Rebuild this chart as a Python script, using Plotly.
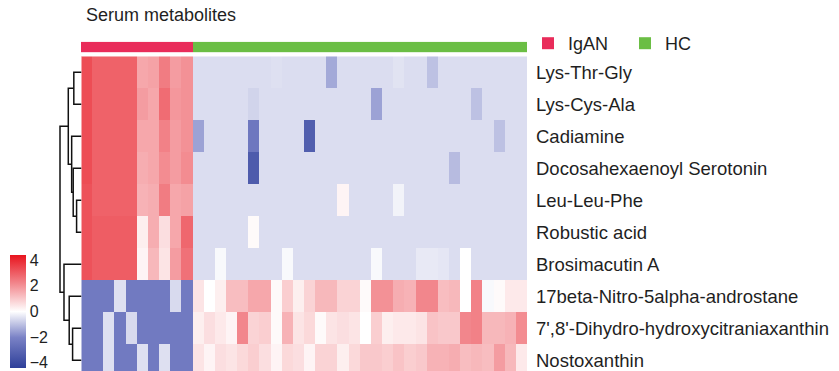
import plotly.graph_objects as go

# ---- data -------------------------------------------------------------
metabolites = [
    "Lys-Thr-Gly",
    "Lys-Cys-Ala",
    "Cadiamine",
    "Docosahexaenoyl Serotonin",
    "Leu-Leu-Phe",
    "Robustic acid",
    "Brosimacutin A",
    "17beta-Nitro-5alpha-androstane",
    "7',8'-Dihydro-hydroxycitraniaxanthin",
    "Nostoxanthin",
]
groups = ["IgAN"] * 10 + ["HC"] * 30
samples = [f"IgAN{i + 1}" for i in range(10)] + [f"HC{i + 1}" for i in range(30)]

# row-scaled abundance (z-score), IgAN samples first, then HC samples
z_lys_thr_gly = [3.3, 2.9, 2.9, 2.9, 2.9, 1.6, 1.7, 2.4, 1.8, 2.0,
                 -0.55, -0.55, -0.55, -0.55, -0.55, -0.55, -0.55, -0.5, -0.55, -0.55,
                 -0.55, -0.55, -1.4, -0.55, -0.55, -0.55, -0.55, -0.55, -0.45, -0.55,
                 -0.55, -1.0, -0.55, -0.55, -0.55, -0.55, -0.55, -0.55, -0.55, -0.55]
z_lys_cys_ala = [3.3, 2.9, 2.9, 2.9, 2.9, 1.8, 1.6, 2.7, 1.9, 2.0,
                 -0.55, -0.55, -0.55, -0.55, -0.55, -0.7, -0.55, -0.55, -0.55, -0.55,
                 -0.55, -0.55, -0.55, -0.55, -0.55, -0.55, -1.5, -0.55, -0.55, -0.55,
                 -0.55, -0.55, -0.55, -0.55, -0.55, -1.0, -0.55, -0.55, -0.55, -0.55]
z_cadiamine = [3.3, 2.9, 2.9, 2.9, 2.9, 1.6, 1.6, 2.3, 1.8, 2.0,
               -1.5, -0.55, -0.55, -0.55, -0.55, -2.4, -0.55, -0.55, -0.55, -0.55,
               -3.3, -0.55, -0.55, -0.55, -0.55, -0.55, -0.55, -0.55, -0.55, -0.55,
               -0.55, -0.55, -0.55, -0.55, -0.55, -0.55, -0.55, -1.0, -0.55, -0.55]
z_docosahexaenoyl = [3.3, 2.9, 2.9, 2.9, 2.9, 1.5, 1.6, 2.1, 1.8, 2.1,
                     -0.55, -0.55, -0.55, -0.55, -0.55, -3.4, -0.55, -0.55, -0.55, -0.55,
                     -0.55, -0.55, -0.55, -0.55, -0.55, -0.55, -0.55, -0.55, -0.55, -0.55,
                     -0.55, -0.55, -0.55, -1.1, -0.55, -0.55, -0.55, -0.55, -0.55, -0.55]
z_leu_leu_phe = [3.2, 2.9, 2.9, 2.9, 2.9, 1.4, 1.5, 2.4, 1.6, 1.7,
                 -0.55, -0.55, -0.55, -0.55, -0.55, -0.55, -0.55, -0.55, -0.55, -0.55,
                 -0.55, -0.55, -0.55, 0.2, -0.55, -0.55, -0.55, -0.55, -0.2, -0.55,
                 -0.55, -0.55, -0.55, -0.55, -0.55, -0.55, -0.55, -0.55, -0.55, -0.55]
z_robustic_acid = [3.2, 3.0, 3.0, 3.0, 3.0, 0.3, 1.5, 0.6, 1.6, 2.8,
                   -0.55, -0.55, -0.55, -0.55, -0.55, 0.1, -0.55, -0.55, -0.55, -0.55,
                   -0.55, -0.55, -0.55, -0.55, -0.55, -0.55, -0.55, -0.55, -0.55, -0.55,
                   -0.55, -0.55, -0.55, -0.55, -0.55, -0.55, -0.55, -0.55, -0.55, -0.55]
z_brosimacutin = [3.2, 3.0, 3.0, 3.0, 3.0, 0.2, 1.3, 0.5, 1.8, 2.6,
                  -0.55, -0.55, -0.1, -0.55, -0.55, -0.55, -0.55, -0.55, -0.1, -0.55,
                  -0.55, -0.55, -0.55, -0.55, -0.55, -0.55, -0.1, -0.55, -0.55, -0.55,
                  -0.35, -0.35, -0.4, -0.55, 0.0, -0.55, -0.55, -0.55, -0.55, -0.55]
z_nitro_androstane = [-2.3, -2.3, -2.3, -0.5, -2.3, -2.3, -2.3, -2.3, -0.6, -2.3,
                      0.5, 0.0, 0.3, 1.2, 1.2, 1.6, 1.6, 0.1, 0.9, 0.3,
                      0.8, 1.3, 1.3, 0.8, 0.8, 0.1, 2.0, 2.0, 1.5, 1.4,
                      2.2, 2.2, 1.2, 1.3, 0.0, 2.3, -0.1, 0.1, 0.4, 0.4]
z_dihydro_xanthin = [-2.3, -2.3, -0.5, -2.3, -0.6, -2.3, -2.3, -2.3, -2.3, -2.3,
                     0.3, 0.6, 0.4, 0.2, 2.2, 0.8, 0.9, 0.1, 1.4, 0.5,
                     0.7, 0.1, 0.5, 0.6, 0.5, 0.0, 0.9, 0.3, 0.4, 0.4,
                     0.5, 1.1, 1.0, 1.0, 2.2, 2.3, 1.3, 1.3, 1.4, 2.1]
z_nostoxanthin = [-2.3, -2.3, -0.5, -2.3, -2.3, -0.5, -2.3, -0.5, -2.3, -2.3,
                  0.5, 0.2, 0.6, 0.5, 0.7, 0.9, 0.6, 0.2, 0.7, 0.6,
                  0.2, 0.8, 0.8, 0.3, 0.7, 1.0, 1.0, 0.9, 1.1, 0.9,
                  1.0, 1.4, 1.4, 1.5, 1.2, 1.3, 1.2, 1.8, 1.3, 0.4]

z_matrix = [z_lys_thr_gly, z_lys_cys_ala, z_cadiamine, z_docosahexaenoyl,
            z_leu_leu_phe, z_robustic_acid, z_brosimacutin,
            z_nitro_androstane, z_dihydro_xanthin, z_nostoxanthin]

# row clustering: (left child, right child, merge distance); leaves are 0..9
row_merges = [
    (4, 5, 1.6),    # node 10
    (3, 10, 2.7),   # node 11
    (2, 11, 3.2),   # node 12
    (0, 1, 2.5),    # node 13
    (13, 12, 4.3),  # node 14
    (8, 9, 2.9),    # node 15
    (7, 15, 4.0),   # node 16
    (6, 16, 5.7),   # node 17
    (14, 17, 7.0),  # node 18 (root)
]

colorbar_ticks = [-4, -2, 0, 2, 4]
colorbar_ticktext = ["\u22124", "\u22122", "0", "2", "4"]

group_colors = {"IgAN": "#E92C5A", "HC": "#6BBE45"}

# ---- layout helpers ---------------------------------------------------
W, H = 839, 371
FONT = "Liberation Sans, Arial, Helvetica, sans-serif"
TEXT = "#1f1f1f"


def fx(px):
    return px / W


def fy(px):
    return 1 - px / H


heat_left, heat_right = 81, 527
heat_top = 56.3
row_px = 32.0
n_rows = len(metabolites)
y_bottom_val = -0.5 + (H - heat_top) / row_px

fig = go.Figure()

# main heatmap
fig.add_trace(go.Heatmap(
    z=z_matrix,
    x=list(range(len(samples))),
    y=list(range(n_rows)),
    zmin=-4.4, zmax=4.4,
    colorscale=[[0.0, "#2E3F99"], [0.27, "#7A82C6"], [0.5, "#FFFFFF"],
                [0.75, "#F2868C"], [1.0, "#E8141E"]],
    colorbar=dict(
        tickvals=colorbar_ticks, ticktext=colorbar_ticktext,
        x=fx(10), xanchor="left", xpad=0,
        y=fy(368), yanchor="bottom", ypad=0,
        lenmode="pixels", len=113, thickness=16,
        outlinewidth=0, ticks="", ticklabeloverflow="allow",
        tickfont=dict(family=FONT, size=16, color=TEXT),
    ),
    hoverinfo="skip",
    xaxis="x", yaxis="y",
))

# group annotation strip
group_codes = [[0 if g == "IgAN" else 1 for g in groups]]
fig.add_trace(go.Heatmap(
    z=group_codes,
    x=list(range(len(samples))),
    y=[0],
    zmin=0, zmax=1,
    colorscale=[[0, group_colors["IgAN"]], [0.5, group_colors["IgAN"]],
                [0.5, group_colors["HC"]], [1, group_colors["HC"]]],
    showscale=False, hoverinfo="skip",
    xaxis="x", yaxis="y2",
))

# row dendrogram: U-shaped links built from the merge table
node_y = {i: float(i) for i in range(n_rows)}
node_h = {i: 0.0 for i in range(n_rows)}
dx, dy = [], []
for k, (a, b, h) in enumerate(row_merges):
    nid = n_rows + k
    dx += [node_h[a], h, h, node_h[b], None]
    dy += [node_y[a], node_y[a], node_y[b], node_y[b], None]
    node_y[nid] = (node_y[a] + node_y[b]) / 2
    node_h[nid] = h
fig.add_trace(go.Scatter(
    x=dx, y=dy, mode="lines",
    line=dict(color="#111111", width=1.5),
    hoverinfo="skip", showlegend=False,
    xaxis="x3", yaxis="y",
))

# legend entries for the annotation strip
for g in ["IgAN", "HC"]:
    fig.add_trace(go.Scatter(
        x=[None], y=[None], mode="markers", name=g,
        marker=dict(symbol="square", size=12, color=group_colors[g]),
        xaxis="x", yaxis="y",
    ))

root_h = row_merges[-1][2]
dendro_l, dendro_root, dendro_r = 56, 60, 81.5
dendro_max = root_h * (dendro_r - dendro_l) / (dendro_r - dendro_root)

fig.update_layout(
    width=W, height=H,
    margin=dict(l=0, r=0, t=0, b=0),
    paper_bgcolor="white", plot_bgcolor="white",
    font=dict(family=FONT, color=TEXT),
    xaxis=dict(domain=[fx(heat_left), fx(heat_right)], range=[-0.5, len(samples) - 0.5],
               showgrid=False, zeroline=False, showticklabels=False, ticks="",
               anchor="y", fixedrange=True),
    yaxis=dict(domain=[0, fy(heat_top)], range=[y_bottom_val, -0.5],
               side="right", tickvals=list(range(n_rows)), ticktext=metabolites,
               tickfont=dict(family=FONT, size=18.5, color=TEXT),
               ticks="", ticklabelstandoff=8,
               showgrid=False, zeroline=False, anchor="x", fixedrange=True),
    yaxis2=dict(domain=[fy(52.3), fy(41.7)], range=[-0.5, 0.5],
                showgrid=False, zeroline=False, showticklabels=False, ticks="",
                anchor="x", fixedrange=True),
    xaxis3=dict(domain=[fx(dendro_l), fx(dendro_r)], range=[dendro_max, 0],
                showgrid=False, zeroline=False, showticklabels=False, ticks="",
                anchor="y", fixedrange=True),
    legend=dict(orientation="h", x=fx(528), xanchor="left", y=fy(43.5), yanchor="middle",
                font=dict(family=FONT, size=18, color=TEXT),
                bgcolor="rgba(0,0,0,0)", itemclick=False, itemdoubleclick=False,
                entrywidth=52),
    annotations=[dict(text="Serum metabolites", x=fx(84), y=fy(15), xref="paper", yref="paper",
                      xanchor="left", yanchor="middle", showarrow=False,
                      font=dict(family=FONT, size=18, color=TEXT))],
)

fig.write_html("out.html")
